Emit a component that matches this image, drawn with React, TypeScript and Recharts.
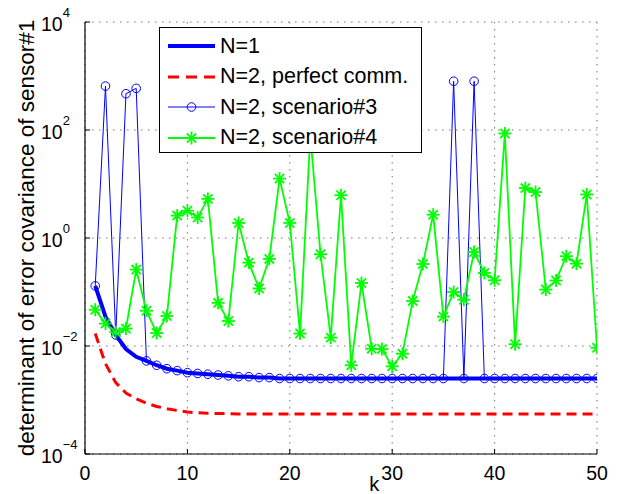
import React from "react";
import { LineChart, Line, XAxis, YAxis, CartesianGrid, Legend } from "recharts";

const FONT = '"Liberation Sans", Arial, Helvetica, sans-serif';

const ks = [
    1, 2, 3, 4, 5, 6, 7, 8, 9, 10, 11, 12, 13, 14, 15, 16, 17, 18, 19, 20, 21, 22, 23, 24, 25,
    26, 27, 28, 29, 30, 31, 32, 33, 34, 35, 36, 37, 38, 39, 40, 41, 42, 43, 44, 45, 46, 47, 48,
    49, 50,
];

// N=1
const n1 = [
    0.13, 0.035, 0.016, 0.0088, 0.0063, 0.0053, 0.0044, 0.0038, 0.0035, 0.0032, 0.0031, 0.003,
    0.0029, 0.0028, 0.0027, 0.0027, 0.0026, 0.0026, 0.0025, 0.0025, 0.0025, 0.0025, 0.0025,
    0.0025, 0.0025, 0.0025, 0.0025, 0.0025, 0.0025, 0.0025, 0.0025, 0.0025, 0.0025, 0.0025,
    0.0025, 0.0025, 0.0025, 0.0025, 0.0025, 0.0025, 0.0025, 0.0025, 0.0025, 0.0025, 0.0025,
    0.0025, 0.0025, 0.0025, 0.0025, 0.0025,
];

// N=2, perfect comm.
const perfect = [
    0.017, 0.0047, 0.0021, 0.00135, 0.00105, 0.00087, 0.00076, 0.00069, 0.00064, 0.0006,
    0.00058, 0.00057, 0.00056, 0.00056, 0.00055, 0.00055, 0.00055, 0.00055, 0.00055, 0.00055,
    0.00055, 0.00055, 0.00055, 0.00055, 0.00055, 0.00055, 0.00055, 0.00055, 0.00055, 0.00055,
    0.00055, 0.00055, 0.00055, 0.00055, 0.00055, 0.00055, 0.00055, 0.00055, 0.00055, 0.00055,
    0.00055, 0.00055, 0.00055, 0.00055, 0.00055, 0.00055, 0.00055, 0.00055, 0.00055, 0.00055,
];

// N=2, scenario#3
const scen3 = [
    0.13, 650, 0.016, 470, 590, 0.0053, 0.0044, 0.0038, 0.0035, 0.0032, 0.0031, 0.003, 0.0029,
    0.0028, 0.0027, 0.0027, 0.0026, 0.0026, 0.0025, 0.0025, 0.0025, 0.0025, 0.0025, 0.0025,
    0.0025, 0.0025, 0.0025, 0.0025, 0.0025, 0.0025, 0.0025, 0.0025, 0.0025, 0.0025, 0.0025, 800,
    0.0025, 800, 0.0025, 0.0025, 0.0025, 0.0025, 0.0025, 0.0025, 0.0025, 0.0025, 0.0025, 0.0025,
    0.0025, 0.0025,
];

// N=2, scenario#4
const scen4 = [
    0.047, 0.026, 0.018, 0.021, 0.26, 0.045, 0.0174, 0.036, 2.6, 3.2, 2.4, 5.3, 0.063, 0.029,
    1.9, 0.35, 0.116, 0.41, 12.6, 1.9, 0.017, 80, 0.5, 0.0143, 6.2, 0.0044, 0.147, 0.0089,
    0.0088, 0.0042, 0.0072, 0.068, 0.33, 2.7, 0.035, 0.1, 0.072, 0.55, 0.225, 0.165, 86, 0.0108,
    8.4, 7.1, 0.111, 0.163, 0.46, 0.335, 6.4, 0.0093,
];

const xTicks = [0, 10, 20, 30, 40, 50];
const yTicks = [1e-4, 1e-2, 1, 1e2, 1e4];

const data = ks.map((k, i) => ({
    k,
    n1: n1[i],
    perfect: perfect[i],
    s3: scen3[i],
    s4: scen4[i],
}));

const legendItems = [
    { label: "N=1", color: "#0000ff", width: 4, dash: undefined, marker: "" },
    { label: "N=2, perfect comm.", color: "#ff0000", width: 3, dash: "11 7", marker: "" },
    { label: "N=2, scenario#3", color: "#0000ff", width: 1, dash: undefined, marker: "o" },
    { label: "N=2, scenario#4", color: "#00ff00", width: 2, dash: undefined, marker: "*" },
];

function Star({ cx, cy }) {
    const r = 6.5;
    const d = r * 0.707;
    return (
        <g stroke="#00ff00" strokeWidth={1.8}>
            <line x1={cx - r} y1={cy} x2={cx + r} y2={cy} />
            <line x1={cx} y1={cy - r} x2={cx} y2={cy + r} />
            <line x1={cx - d} y1={cy - d} x2={cx + d} y2={cy + d} />
            <line x1={cx - d} y1={cy + d} x2={cx + d} y2={cy - d} />
        </g>
    );
}

function LeftTick({ x, y, payload }) {
    const e = Math.round(Math.log10(payload.value));
    return (
        <g>
            <line x1={x} x2={x + 5} y1={y} y2={y} stroke="#000" />
            <text x={x - 44} y={y + 9} fontFamily={FONT} fontSize={19.5} fill="#000">
                10
                <tspan dy={-14} fontSize={13}>
                    {e < 0 ? "\u2212" + -e : e}
                </tspan>
            </text>
        </g>
    );
}

function BottomTick({ x, y, payload }) {
    return (
        <g>
            <line x1={x} x2={x} y1={y} y2={y - 5} stroke="#000" />
            <text x={x} y={y + 26} textAnchor="middle" fontFamily={FONT} fontSize={19.5} fill="#000">
                {payload.value}
            </text>
        </g>
    );
}

function TopTick({ x, y }) {
    return <line x1={x} x2={x} y1={y} y2={y + 5} stroke="#000" />;
}

function RightTick({ x, y }) {
    return <line x1={x} x2={x - 5} y1={y} y2={y} stroke="#000" />;
}

function LegendBox() {
    return (
        <div
            style={{
                width: 263,
                height: 126,
                border: "1px solid #000",
                background: "#fff",
                boxSizing: "border-box",
                paddingTop: 3,
                fontFamily: FONT,
                fontSize: 21.5,
                color: "#000",
            }}
        >
            {legendItems.map((item) => (
                <div key={item.label} style={{ display: "flex", alignItems: "center", height: 30.5 }}>
                    <svg width={60} height={30} style={{ display: "block" }}>
                        <line
                            x1={8}
                            x2={55}
                            y1={15}
                            y2={15}
                            stroke={item.color}
                            strokeWidth={item.width}
                            strokeDasharray={item.dash}
                        />
                        {item.marker === "o" && (
                            <circle cx={31.5} cy={15} r={4.3} fill="none" stroke={item.color} />
                        )}
                        {item.marker === "*" && <Star cx={31.5} cy={15} />}
                    </svg>
                    <span style={{ whiteSpace: "nowrap" }}>{item.label}</span>
                </div>
            ))}
        </div>
    );
}

export default function App() {
    return (
        <div style={{ position: "absolute", left: 0, top: 0 }}>
            <LineChart
                width={621}
                height={494}
                data={data}
                margin={{ top: 22, right: 24, bottom: 0, left: 0 }}
                style={{ background: "#fff" }}
            >
                <CartesianGrid stroke="#777" strokeDasharray="1.5 5.5" />
                <XAxis
                    dataKey="k"
                    type="number"
                    domain={[0, 50]}
                    ticks={xTicks}
                    interval={0}
                    height={40}
                    tickSize={0}
                    tickMargin={0}
                    tickLine={false}
                    axisLine={{ stroke: "#000", strokeWidth: 1.2 }}
                    tick={BottomTick}
                    allowDataOverflow
                    label={{
                        content: ({ viewBox }) => (
                            <text
                                x={viewBox.x + viewBox.width * 0.565}
                                y={viewBox.y + 37}
                                textAnchor="middle"
                                fontFamily={FONT}
                                fontSize={20}
                                fill="#000"
                            >
                                k
                            </text>
                        ),
                    }}
                />
                <XAxis
                    xAxisId="top"
                    orientation="top"
                    dataKey="k"
                    type="number"
                    domain={[0, 50]}
                    ticks={xTicks}
                    interval={0}
                    height={0}
                    tickSize={0}
                    tickMargin={0}
                    tickLine={false}
                    axisLine={{ stroke: "#000", strokeWidth: 1.2 }}
                    tick={TopTick}
                    allowDataOverflow
                />
                <YAxis
                    type="number"
                    scale="log"
                    domain={[1e-4, 1e4]}
                    ticks={yTicks}
                    interval={0}
                    width={85}
                    tickSize={0}
                    tickMargin={0}
                    tickLine={false}
                    axisLine={{ stroke: "#000", strokeWidth: 1.2 }}
                    tick={LeftTick}
                    allowDataOverflow
                    label={{
                        content: ({ viewBox }) => {
                            const cy = viewBox.y + viewBox.height / 2;
                            return (
                                <text
                                    x={34}
                                    y={cy}
                                    transform={`rotate(-90, 34, ${cy})`}
                                    textAnchor="middle"
                                    fontFamily={FONT}
                                    fontSize={22.5}
                                    fill="#000"
                                >
                                    determinant of error covariance of sensor#1
                                </text>
                            );
                        },
                    }}
                />
                <YAxis
                    yAxisId="right"
                    orientation="right"
                    type="number"
                    scale="log"
                    domain={[1e-4, 1e4]}
                    ticks={yTicks}
                    interval={0}
                    width={0}
                    tickSize={0}
                    tickMargin={0}
                    tickLine={false}
                    axisLine={{ stroke: "#000", strokeWidth: 1.2 }}
                    tick={RightTick}
                    allowDataOverflow
                />
                <Legend
                    layout="vertical"
                    align="center"
                    verticalAlign="middle"
                    wrapperStyle={{ left: 159, top: 27, width: 263, height: 126 }}
                    content={() => <LegendBox />}
                />
                <Line
                    dataKey="n1"
                    type="linear"
                    stroke="#0000ff"
                    strokeWidth={4}
                    dot={false}
                    activeDot={false}
                    isAnimationActive={false}
                />
                <Line
                    dataKey="perfect"
                    type="linear"
                    stroke="#ff0000"
                    strokeWidth={3}
                    strokeDasharray="10 6"
                    dot={false}
                    activeDot={false}
                    isAnimationActive={false}
                />
                <Line
                    dataKey="s3"
                    type="linear"
                    stroke="#0000ff"
                    strokeWidth={1}
                    dot={{ r: 4.3, stroke: "#0000ff", strokeWidth: 1, fill: "none" }}
                    activeDot={false}
                    isAnimationActive={false}
                />
                <Line
                    dataKey="s4"
                    type="linear"
                    stroke="#00ff00"
                    strokeWidth={1.8}
                    dot={(p) => <Star key={p.index} cx={p.cx} cy={p.cy} />}
                    activeDot={false}
                    isAnimationActive={false}
                />
            </LineChart>
        </div>
    );
}
